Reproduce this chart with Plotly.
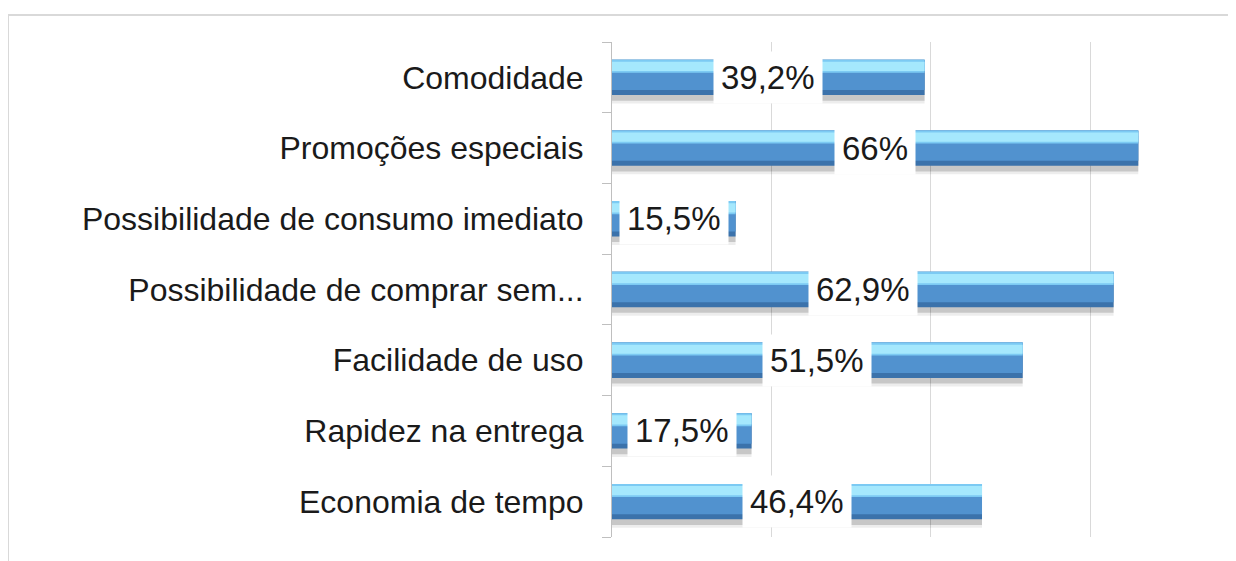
import plotly.graph_objects as go

categories = [
    "Comodidade",
    "Promoções especiais",
    "Possibilidade de consumo imediato",
    "Possibilidade de comprar sem...",
    "Facilidade de uso",
    "Rapidez na entrega",
    "Economia de tempo",
]
values = [39.2, 66.0, 15.5, 62.9, 51.5, 17.5, 46.4]
value_labels = ["39,2%", "66%", "15,5%", "62,9%", "51,5%", "17,5%", "46,4%"]

# bottom-to-top order for a normal (non reversed) category axis
cats = categories[::-1]
vals = values[::-1]
labs = value_labels[::-1]

FONT = "Liberation Sans, Arial, sans-serif"

fig = go.Figure()

layers = [
    # (offset, width, color)
    (-0.37, 0.56, "rgba(0,0,0,0.07)"),
    (-0.33, 0.50, "rgba(0,0,0,0.16)"),
    (-0.25, 0.50, "#3b72ab"),
    (-0.18, 0.43, "#5192cf"),
    (0.065, 0.185, "#7ccaf3"),
    (0.09, 0.13, "#a5e8fd"),
]
for off, w, col in layers:
    fig.add_trace(go.Bar(
        y=cats, x=vals, orientation="h",
        offset=off, width=w,
        marker=dict(color=col, line=dict(width=0)),
        hoverinfo="skip", showlegend=False,
    ))

for c, v, t in zip(cats, vals, labs):
    fig.add_annotation(
        x=v / 2, y=c, xref="x", yref="y", text=t, showarrow=False,
        bgcolor="white", borderpad=7,
        font=dict(family=FONT, size=33, color="#1a1a1a"),
    )

fig.update_layout(
    width=1228, height=553,
    margin=dict(l=604, r=2, t=34, b=24, autoexpand=False),
    paper_bgcolor="white", plot_bgcolor="white",
    barmode="overlay",
    font=dict(family=FONT, color="#1a1a1a"),
    xaxis=dict(range=[0, 78], showticklabels=False, showgrid=True,
               gridcolor="#d9d9d9", gridwidth=1, dtick=20,
               zeroline=False, showline=False, ticks="", automargin=False),
    yaxis=dict(categoryorder="array", categoryarray=cats,
               showline=True, linecolor="#bfbfbf", linewidth=1,
               ticks="outside", tickson="boundaries", ticklen=9,
               tickcolor="#bfbfbf", ticklabelstandoff=21,
               tickfont=dict(family=FONT, size=32, color="#1a1a1a"),
               showgrid=False, zeroline=False, automargin=False),
    shapes=[
        dict(type="line", xref="paper", yref="paper",
             x0=-604 / 622, x1=1.2, y0=(553 - 24 - 7) / 495, y1=(553 - 24 - 7) / 495,
             line=dict(color="#d9d9d9", width=2)),
        dict(type="line", xref="paper", yref="paper",
             x0=-604 / 622, x1=-604 / 622, y0=(553 - 24 - 7) / 495, y1=-0.2,
             line=dict(color="#d9d9d9", width=2)),
    ],
)

fig.write_html("out.html")
